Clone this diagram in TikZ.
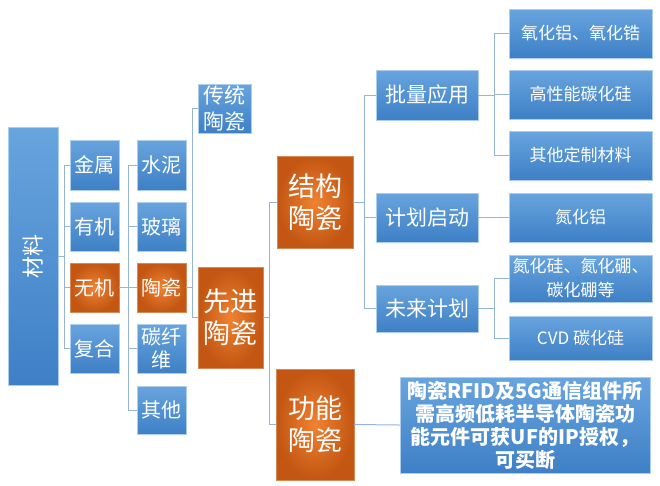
\documentclass[tikz,border=0pt]{standalone}
\usepackage{fontspec}
\setmainfont{Noto Sans CJK SC}
\definecolor{blueTop}{RGB}{104,164,222}
\definecolor{blueBot}{RGB}{62,128,198}
\definecolor{hotIn}{RGB}{240,130,50}
\definecolor{hotOut}{RGB}{194,86,18}
\definecolor{linkGray}{RGB}{150,180,212}

\begin{document}
\begin{tikzpicture}[
  x=1pt, y=-1pt,
  cell/.style={
    text=white,
    align=center,
    inner sep=0pt,
  },
  sz/.style 2 args={minimum width=#1pt, minimum height=#2pt},
  bluebox/.style={
    cell,
    top color=blueTop,
    bottom color=blueBot,
    draw=blueTop!55!white,
    line width=0.5pt,
  },
  hotbox/.style={
    cell,
    inner color=hotIn,
    outer color=hotOut,
    draw=hotOut!70!white,
    line width=0.5pt,
  },
  fa/.style={font=\fontsize{20}{23}\selectfont},
  fb/.style={font=\fontsize{27}{32}\selectfont},
  fc/.style={font=\fontsize{17}{24}\selectfont},
  link/.style={draw=linkGray, line width=1pt},
]
  \useasboundingbox (0,0) rectangle (660,485);

  % left part
  \node[bluebox, sz={50}{258}, font=\fontsize{22}{26}\selectfont] (cailiao) at (33,256)
    {\rotatebox{90}{材料}};

  \node[bluebox, sz={49}{50}, fa] (jinshu) at (94.5,165) {金属};
  \node[bluebox, sz={49}{49}, fa] (youji) at (94.5,226.5) {有机};
  \node[hotbox, sz={49}{49}, fa] (wuji) at (94.5,287.5) {无机};
  \node[bluebox, sz={49}{49}, fa] (fuhe) at (94.5,348.5) {复合};

  \node[bluebox, sz={49}{50}, fa] (shuini) at (161.5,165) {水泥};
  \node[bluebox, sz={49}{49}, fa] (boli) at (161.5,226.5) {玻璃};
  \node[hotbox, sz={49}{49}, fa] (taoci) at (161.5,287.5) {陶瓷};
  \node[bluebox, sz={49}{49}, fa] (tanxian) at (161.5,348.5) {碳纤\\维};
  \node[bluebox, sz={49}{48}, fa] (qita) at (161.5,410) {其他};

  \node[bluebox, sz={53}{49}, font=\fontsize{21}{26}\selectfont] (chuantong) at (224.5,108.5)
    {传统\\陶瓷};
  \node[hotbox, sz={65}{101}, fb] (xianjin) at (230.5,317.5) {先进\\陶瓷};

  % ceramics
  \node[hotbox, sz={76}{92}, fb] (jiegou) at (315,202) {结构\\陶瓷};
  \node[hotbox, sz={78}{111}, fb] (gongneng) at (315,424.5) {功能\\陶瓷};

  \node[bluebox, sz={102}{50}, font=\fontsize{21}{24}\selectfont] (piliang) at (427,95) {批量应用};
  \node[bluebox, sz={102}{49}, font=\fontsize{21}{24}\selectfont] (jihua) at (427,217.5) {计划启动};
  \node[bluebox, sz={102}{47}, font=\fontsize{21}{24}\selectfont] (weilai) at (427,308.5) {未来计划};

  % right column
  \node[bluebox, sz={143}{49}, fc] (yanghua) at (580.5,33.5) {氧化铝、氧化锆};
  \node[bluebox, sz={143}{49}, fc] (gaoxing) at (580.5,94.5) {高性能碳化硅};
  \node[bluebox, sz={143}{49}, fc] (dingzhi) at (580.5,155.5) {其他定制材料};
  \node[bluebox, sz={143}{49}, fc] (danhualv) at (580.5,217.5) {氮化铝};
  \node[bluebox, sz={143}{47}, fc] (danhuagui) at (580.5,278.5) {氮化硅、氮化硼、\\碳化硼等};
  \node[bluebox, sz={143}{44}, fc] (cvd) at (580.5,338) {CVD\ 碳化硅};

  \node[bluebox, sz={250}{96}, font=\fontsize{20}{23}\selectfont\bfseries] (shouquan) at (525,425)
    {陶瓷RFID及5G通信组件所\\需高频低耗半导体陶瓷功\\能元件可获UF的IP授权，\\可买断};

  % connectors
  \foreach \kid in {jinshu,youji,wuji,fuhe}
    \draw[link] (cailiao.east) -- ++(6,0) |- (\kid.west);
  \foreach \kid in {shuini,boli,taoci,tanxian,qita}
    \draw[link] (wuji.east) -- ++(9,0) |- (\kid.west);
  \foreach \kid in {chuantong,xianjin}
    \draw[link] (taoci.east) -- ++(6,0) |- (\kid.west);
  \foreach \kid in {jiegou,gongneng}
    \draw[link] (xianjin.east) -- ++(6,0) |- (\kid.west);
  \foreach \kid in {piliang,jihua,weilai}
    \draw[link] (jiegou.east) -- ++(11,0) |- (\kid.west);
  \foreach \kid in {yanghua,gaoxing,dingzhi}
    \draw[link] (piliang.east) -- ++(16,0) |- (\kid.west);
  \draw[link] (jihua.east) -- (danhualv.west);
  \foreach \kid in {danhuagui,cvd}
    \draw[link] (weilai.east) -- ++(16,0) |- (\kid.west);
  \draw[link] (gongneng.east) -- (shouquan.west);

\end{tikzpicture}
\end{document}
